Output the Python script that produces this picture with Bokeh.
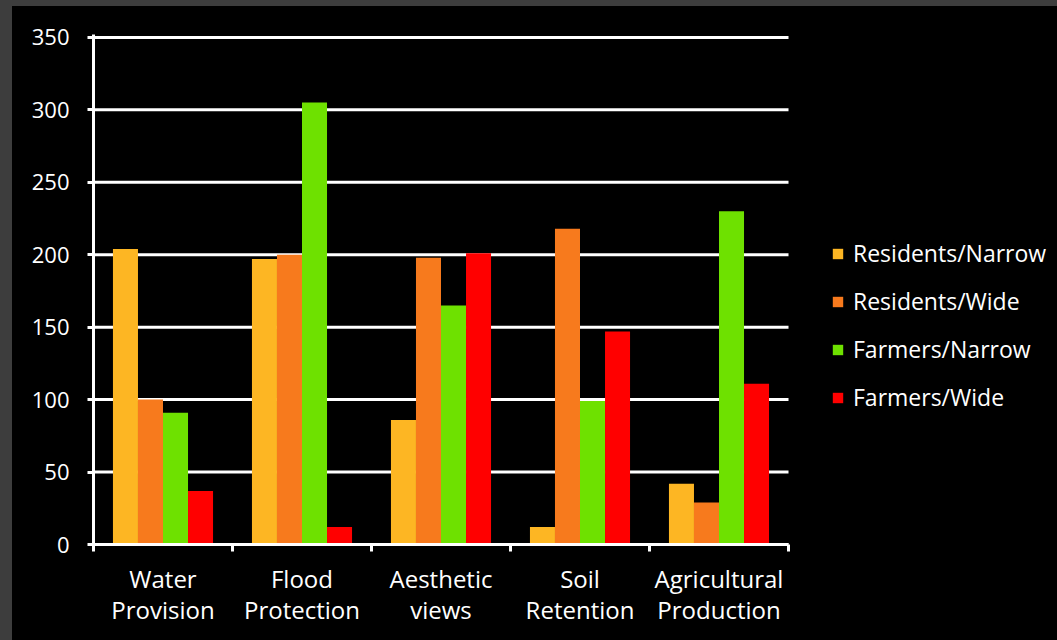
from bokeh.plotting import figure
from bokeh.models import ColumnDataSource, FixedTicker, Legend, LegendItem, Range1d
from bokeh.layouts import column
from bokeh.transform import dodge
from bokeh.embed import file_html
from bokeh.resources import INLINE

categories = ["Water\nProvision", "Flood\nProtection", "Aesthetic\nviews", "Soil\nRetention", "Agricultural\nProduction"]
series_names = ["Residents/Narrow", "Residents/Wide", "Farmers/Narrow", "Farmers/Wide"]
residents_narrow = [204, 197, 86, 12, 42]
residents_wide = [100, 200, 198, 218, 29]
farmers_narrow = [91, 305, 165, 99, 230]
farmers_wide = [37, 12, 201, 147, 111]
y_ticks = [0, 50, 100, 150, 200, 250, 300, 350]
colors = ["#FDB623", "#F77A1D", "#6EE100", "#FF0000"]

FONT = "Open Sans"

n = len(categories)
centers = [i + 0.5 for i in range(n)]
source = ColumnDataSource(dict(
    x=centers,
    rn=residents_narrow,
    rw=residents_wide,
    fn=farmers_narrow,
    fw=farmers_wide,
))

# plot area 695px wide for the categories; frame continues to the right for the legend
FIG_W, LEFT = 1045, 81
frame_w = FIG_W - LEFT
x_end = n * frame_w / 695.0

p = figure(width=FIG_W, height=634, output_backend="svg", toolbar_location=None,
           x_range=Range1d(0, x_end), y_range=Range1d(0, 352),
           background_fill_color="black", border_fill_color="black",
           min_border_left=LEFT, min_border_right=0, min_border_top=28, min_border_bottom=96)
p.outline_line_color = None

# horizontal grid lines limited to the category area
p.xgrid.grid_line_color = None
p.ygrid.grid_line_color = None
p.segment(x0=0, x1=n, y0=y_ticks, y1=y_ticks, line_color="white", line_width=3)

keys = ["rn", "rw", "fn", "fw"]
offsets = [-0.27, -0.09, 0.09, 0.27]
renderers = []
for k, off, c in zip(keys, offsets, colors):
    r = p.vbar(x=dodge("x", off, range=p.x_range), top=k, width=0.18, bottom=0,
               source=source, fill_color=c, line_color=None)
    renderers.append(r)

# y axis
ya = p.yaxis[0]
ya.ticker = FixedTicker(ticks=y_ticks)
ya.axis_line_color = "white"
ya.axis_line_width = 3
ya.major_tick_line_color = "white"
ya.major_tick_line_width = 3
ya.major_tick_out = 6
ya.major_tick_in = 0
ya.minor_tick_line_color = None
ya.major_label_text_color = "white"
ya.major_label_text_font = FONT
ya.major_label_text_font_size = "22px"
ya.major_label_standoff = 18

# x axis
xa = p.xaxis[0]
xa.bounds = (0, n)
xa.ticker = FixedTicker(ticks=centers, minor_ticks=list(range(n + 1)))
xa.major_label_overrides = {c: lab for c, lab in zip(centers, categories)}
xa.axis_line_color = "white"
xa.axis_line_width = 3
xa.major_tick_line_color = None
xa.minor_tick_line_color = "white"
xa.minor_tick_line_width = 3
xa.minor_tick_out = 7
xa.minor_tick_in = 0
xa.major_label_text_color = "white"
xa.major_label_text_font = FONT
xa.major_label_text_font_size = "24px"
xa.major_label_text_line_height = 0.95
xa.major_label_standoff = 10

legend = Legend(items=[LegendItem(label=s, renderers=[r]) for s, r in zip(series_names, renderers)],
                location=(738, 131))
legend.background_fill_alpha = 0
legend.border_line_color = None
legend.padding = 0
legend.margin = 0
legend.glyph_width = 13
legend.glyph_height = 13
legend.label_height = 31
legend.spacing = 16
legend.label_standoff = 9
legend.label_text_color = "white"
legend.label_text_font = FONT
legend.label_text_font_size = "23px"
p.add_layout(legend, "center")

inner = column(p, styles={"background-color": "black"}, margin=(6, 0, 0, 12))
layout = column(inner, styles={"background-color": "#3d3d3d"}, width=1057, height=640)

open("out.html", "w").write(file_html(layout, INLINE))
